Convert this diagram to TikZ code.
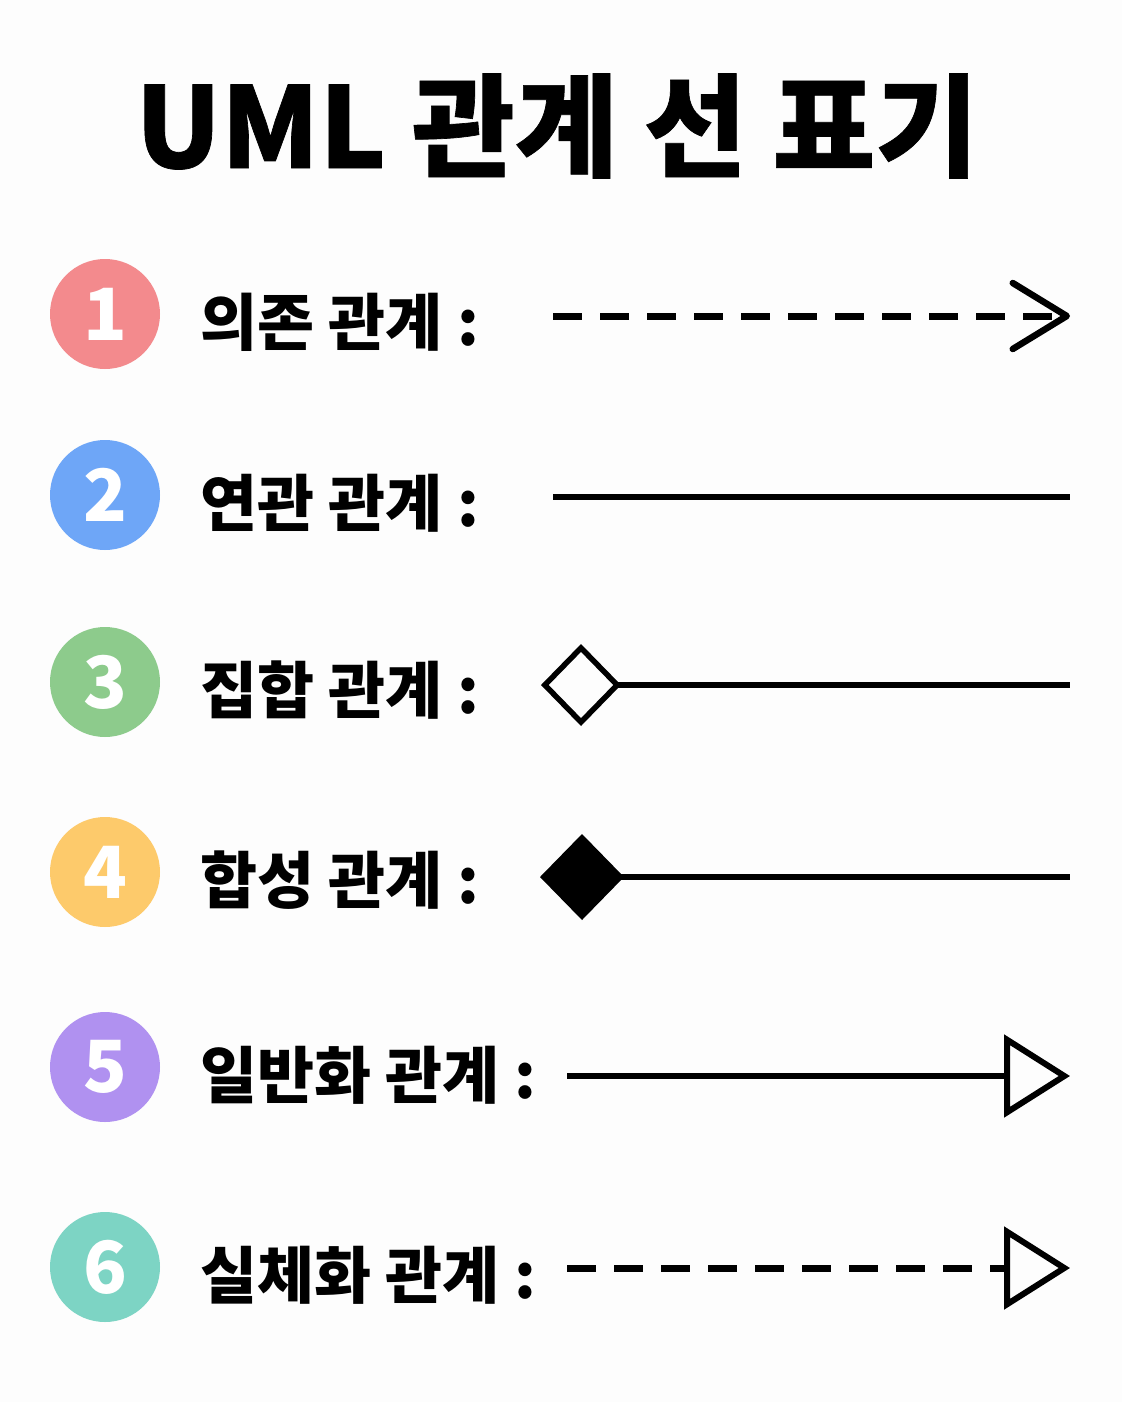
\documentclass[tikz,border=0pt]{standalone}
\usepackage{fontspec}
\usetikzlibrary{arrows.meta}
\IfFontExistsTF{Noto Sans CJK KR Black}
  {\newfontfamily\krtitle{Noto Sans CJK KR Black}[FakeBold=0.6]
   \newfontfamily\kr{Noto Sans CJK KR Black}}
  {\newfontfamily\krtitle{Noto Sans CJK KR Bold}[FakeBold=1.8]
   \newfontfamily\kr{Noto Sans CJK KR Bold}[FakeBold=1]}
\definecolor{bgc}{HTML}{FDFDFD}
\definecolor{c1}{HTML}{F38A8D}
\definecolor{c2}{HTML}{6EA6F7}
\definecolor{c3}{HTML}{8DCB8C}
\definecolor{c4}{HTML}{FDCA6B}
\definecolor{c5}{HTML}{B091F0}
\definecolor{c6}{HTML}{7DD4C4}
\begin{document}
\begin{tikzpicture}[x=1pt,y=-1pt,
  num/.style={circle, minimum size=110pt, inner sep=0pt, fill=#1, text=white,
    font=\kr\fontsize{72}{72}\selectfont},
  lbl/.style={anchor=base west, font=\kr\fontsize{62}{70}\selectfont},
  rel/.style={line width=6pt, line cap=butt, black},
  dsh/.style={line width=7pt, dash pattern=on 29pt off 18pt}]
\useasboundingbox[fill=bgc] (0,0) rectangle (1122,1402);

\node[anchor=base, font=\krtitle\fontsize{112}{114}\selectfont] (title) at (557,168) {UML 관계 선 표기};

\node[num=c1] (n1) at (105,314) {1};
\node[num=c2] (n2) at (105,495) {2};
\node[num=c3] (n3) at (105,682) {3};
\node[num=c4] (n4) at (105,872) {4};
\node[num=c5] (n5) at (105,1067) {5};
\node[num=c6] (n6) at (105,1267) {6};

\node[lbl] (l1) at (197,345) {의존 관계 :};
\node[lbl] (l2) at (197,526) {연관 관계 :};
\node[lbl] (l3) at (197,713) {집합 관계 :};
\node[lbl] (l4) at (197,903) {합성 관계 :};
\node[lbl] (l5) at (197,1098) {일반화 관계 :};
\node[lbl] (l6) at (197,1298) {실체화 관계 :};

\coordinate (s1) at (553,316); \coordinate (e1) at (1070,316);
\coordinate (s2) at (553,497); \coordinate (e2) at (1070,497);
\coordinate (s3) at (541,685); \coordinate (e3) at (1070,685);
\coordinate (s4) at (540,877); \coordinate (e4) at (1070,877);
\coordinate (s5) at (567,1076); \coordinate (e5) at (1070,1076);
\coordinate (s6) at (567,1268); \coordinate (e6) at (1070,1268);

\draw[rel,dsh,-{Straight Barb[round,length=54pt,width=66pt,line width=6.5pt]}] (s1) -- (e1);
\draw[rel] (s2) -- (e2);
\draw[rel,{Diamond[open,length=80pt,width=82pt,line width=5.5pt]}-] (s3) -- (e3);
\draw[rel,{Diamond[length=84pt,width=86pt]}-] (s4) -- (e4);
\draw[rel,-{Triangle[open,length=66pt,width=82pt,line width=6pt]}] (s5) -- (e5);
\draw[rel,dsh,-{Triangle[open,length=66pt,width=82pt,line width=6pt]}] (s6) -- (e6);
\end{tikzpicture}
\end{document}
